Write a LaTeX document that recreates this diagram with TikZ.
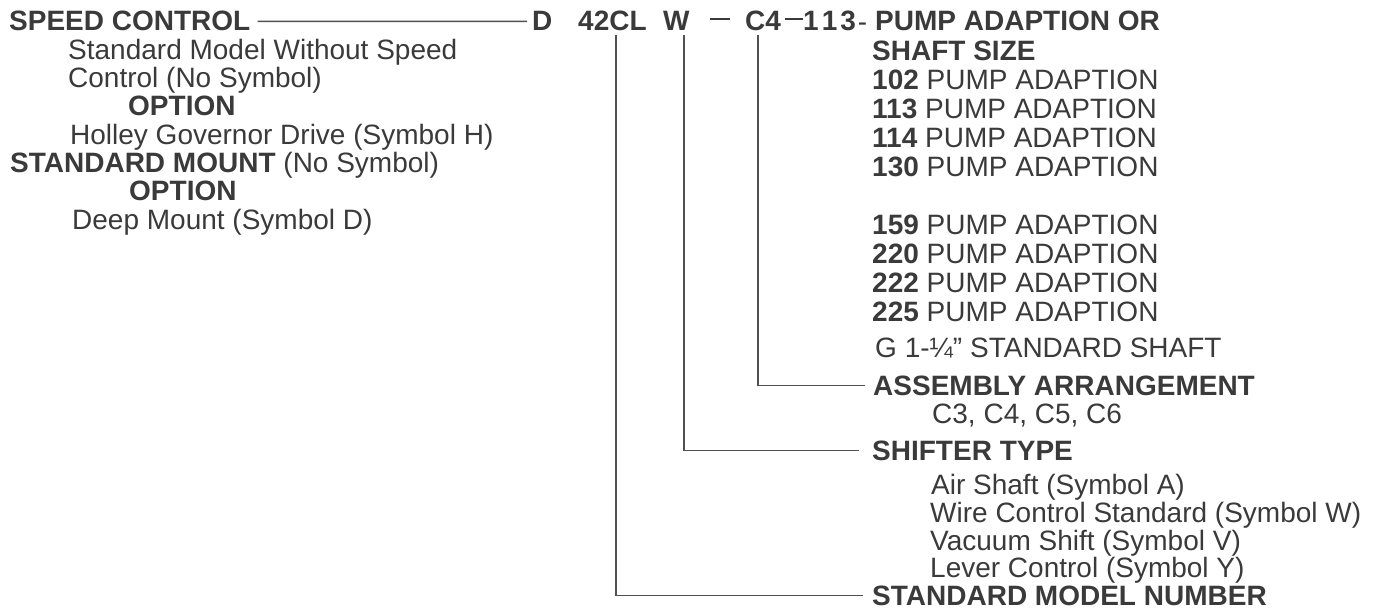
\documentclass[tikz,border=0pt]{standalone}
\usepackage{fontspec}
\setmainfont{Liberation Sans}
\definecolor{ink}{RGB}{58,58,58}
\definecolor{rule}{RGB}{80,80,80}
\tikzset{
  txt/.style={anchor=base west, inner sep=0pt, text=ink},
  hd/.style={txt, font=\fontsize{28}{34}\selectfont\bfseries},
  conn/.style={draw=rule, line width=1.3pt},
}
\begin{document}
\begin{tikzpicture}[x=1pt, y=-1pt, font=\fontsize{28}{34}\selectfont]
\useasboundingbox (0,0) rectangle (1386,610);
% left column
\node[hd]  (speed) at (9,31)    {SPEED CONTROL};
\node[txt] (l1)    at (68,59.3) {Standard Model Without Speed};
\node[txt] (l2)    at (68,87.6) {Control (No Symbol)};
\node[hd]  (opt1)  at (128,115.9) {OPTION};
\node[txt] (l3)    at (70,144.2) {Holley Governor Drive (Symbol H)};
\node[txt] (mount) at (10,172.5) {\textbf{STANDARD MOUNT} (No Symbol)};
\node[hd]  (opt2)  at (129,200.8) {OPTION};
\node[txt] (l4)    at (72,229.1) {Deep Mount (Symbol D)};
% model code
\node[hd] (cD)   at (532,31) {D};
\node[hd] (c42)  at (578,31) {42CL};
\node[hd] (cW)   at (663,31) {W};
\node[hd] (cd1)  at (710,31) {\rule[10.5pt]{20pt}{2pt}};
\node[hd] (cC4)  at (745,31) {C4};
\node[hd] (c113) at (785,31) {\rule[10.5pt]{18pt}{2pt}1\kern3pt1\kern3pt3\kern2pt\raisebox{-1pt}{\mdseries -}};
% right column
\node[hd]  (pump) at (875,31)  {PUMP ADAPTION OR};
\node[hd]  (shaft) at (872,60) {SHAFT SIZE};
\node[txt] (p102) at (872,89)  {\textbf{102} PUMP ADAPTION};
\node[txt] (p113) at (872,118) {\textbf{113} PUMP ADAPTION};
\node[txt] (p114) at (872,147) {\textbf{114} PUMP ADAPTION};
\node[txt] (p130) at (872,176) {\textbf{130} PUMP ADAPTION};
\node[txt] (p159) at (872,234) {\textbf{159} PUMP ADAPTION};
\node[txt] (p220) at (872,263) {\textbf{220} PUMP ADAPTION};
\node[txt] (p222) at (872,292) {\textbf{222} PUMP ADAPTION};
\node[txt] (p225) at (872,321) {\textbf{225} PUMP ADAPTION};
\node[txt] (pG)   at (875,357) {G 1-¼” STANDARD SHAFT};
\node[hd]  (asm)  at (873,395) {ASSEMBLY ARRANGEMENT};
\node[txt] (asm1) at (932,423) {C3, C4, C5, C6};
\node[hd]  (shf)  at (872,460) {SHIFTER TYPE};
\node[txt] (s1)   at (931,494) {Air Shaft (Symbol A)};
\node[txt] (s2)   at (930,522) {Wire Control Standard (Symbol W)};
\node[txt] (s3)   at (930,550) {Vacuum Shift (Symbol V)};
\node[txt] (s4)   at (930,577) {Lever Control (Symbol Y)};
\node[hd]  (smn)  at (872,605) {STANDARD MODEL NUMBER};
% connectors
\coordinate (t42) at (616,35);
\coordinate (tW)  at (684,35);
\coordinate (tC4) at (758,35);
\draw[conn] ([xshift=7pt]speed.east) -- ([xshift=-5pt]cD.west);
\draw[conn] (tC4) |- ([xshift=-8pt]asm.west);
\draw[conn] (tW)  |- ([xshift=-13pt]shf.west);
\draw[conn] (t42) |- ([xshift=-9pt]smn.west);
\end{tikzpicture}
\end{document}
